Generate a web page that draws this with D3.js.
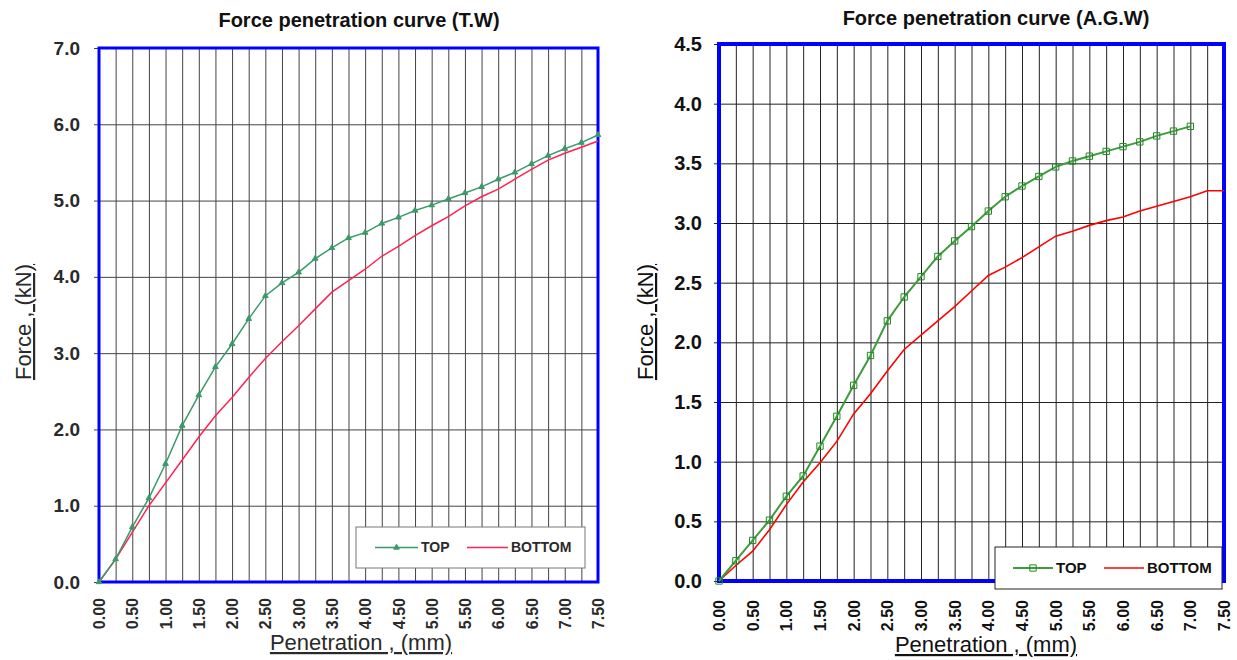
<!DOCTYPE html>
<html>
<head>
<meta charset="utf-8">
<script src="https://cdn.jsdelivr.net/npm/d3@7"></script>
<style>
  html, body { margin: 0; padding: 0; background: #fff; }
  svg { display: block; font-family: 'Liberation Sans', Arial, sans-serif; }
</style>
</head>
<body>
<div id="chart"></div>
<script>
/** DATA **/
// Penetration (mm), one reading every 0.25 mm
let penetration = [0, 0.25, 0.5, 0.75, 1, 1.25, 1.5, 1.75, 2, 2.25, 2.5, 2.75, 3, 3.25, 3.5, 3.75,
  4, 4.25, 4.5, 4.75, 5, 5.25, 5.5, 5.75, 6, 6.25, 6.5, 6.75, 7, 7.25, 7.5];
// A.G.W top stops at 7.0 mm
let penetrationAGWTop = [0, 0.25, 0.5, 0.75, 1, 1.25, 1.5, 1.75, 2, 2.25, 2.5, 2.75, 3, 3.25, 3.5, 3.75,
  4, 4.25, 4.5, 4.75, 5, 5.25, 5.5, 5.75, 6, 6.25, 6.5, 6.75, 7];

// Force (kN) - T.W
let twTop = [0, 0.30, 0.72, 1.10, 1.55, 2.05, 2.45, 2.82, 3.12, 3.45, 3.75, 3.92, 4.06, 4.24, 4.38, 4.51,
  4.58, 4.70, 4.78, 4.87, 4.94, 5.02, 5.10, 5.18, 5.28, 5.37, 5.48, 5.59, 5.68, 5.76, 5.86];
let twBottom = [0, 0.30, 0.65, 1.00, 1.30, 1.60, 1.90, 2.18, 2.42, 2.68, 2.93, 3.15, 3.36, 3.58, 3.80, 3.95,
  4.10, 4.27, 4.40, 4.54, 4.67, 4.79, 4.93, 5.05, 5.15, 5.28, 5.41, 5.53, 5.62, 5.70, 5.78];

// Force (kN) - A.G.W
let agwTop = [0, 0.17, 0.34, 0.51, 0.71, 0.88, 1.13, 1.38, 1.64, 1.89, 2.18, 2.38, 2.55, 2.72, 2.85, 2.97,
  3.10, 3.22, 3.31, 3.39, 3.47, 3.52, 3.56, 3.60, 3.64, 3.68, 3.73, 3.77, 3.81];
let agwBottom = [0, 0.13, 0.25, 0.43, 0.64, 0.83, 0.99, 1.17, 1.40, 1.57, 1.76, 1.94, 2.06, 2.18, 2.30, 2.43,
  2.56, 2.63, 2.71, 2.80, 2.89, 2.93, 2.98, 3.02, 3.05, 3.10, 3.14, 3.18, 3.22, 3.27, 3.27];

// tick labels
let xTickLabels = [0, 0.5, 1, 1.5, 2, 2.5, 3, 3.5, 4, 4.5, 5, 5.5, 6, 6.5, 7, 7.5];
let twYTicks = [0, 1, 2, 3, 4, 5, 6, 7];
let agwYTicks = [0, 0.5, 1, 1.5, 2, 2.5, 3, 3.5, 4, 4.5];

let svg = d3.select('#chart').append('svg')
  .attr('width', 1237)
  .attr('height', 660);

svg.append('rect').attr('width', 1237).attr('height', 660).attr('fill', '#fff');

/**
 * Draws one force / penetration panel
 */
function drawChart (o) {
  let x = d3.scaleLinear().domain([0, 7.5]).range([o.left, o.right]);
  let y = d3.scaleLinear().domain([0, o.yMax]).range([o.bottom, o.top]);
  let g = svg.append('g');

  // vertical grid every 0.25 mm
  g.append('g')
    .attr('transform', `translate(0,${o.bottom})`)
    .call(d3.axisBottom(x).tickValues(penetration).tickSize(-(o.bottom - o.top)).tickFormat(''))
    .call(s => s.select('.domain').remove())
    .selectAll('line')
    .attr('stroke', o.grid);

  // horizontal grid + y labels
  let yAxis = g.append('g')
    .attr('transform', `translate(${o.left},0)`)
    .call(d3.axisLeft(y).tickValues(o.yTicks).tickSize(5).tickPadding(o.yPad).tickFormat(d3.format('.1f')));
  yAxis.select('.domain').remove();
  yAxis.selectAll('line').attr('stroke', o.grid);
  yAxis.selectAll('.tick').append('line')
    .attr('x2', o.right - o.left)
    .attr('stroke', o.grid);
  yAxis.selectAll('text')
    .attr('fill', o.textColor)
    .style('font-size', o.yFont + 'px')
    .style('font-weight', 'bold');

  // x labels, rotated
  let xAxis = g.append('g')
    .attr('transform', `translate(0,${o.bottom})`)
    .call(d3.axisBottom(x).tickValues(xTickLabels).tickSize(0).tickFormat(d3.format('.2f')));
  xAxis.select('.domain').remove();
  xAxis.selectAll('text')
    .attr('transform', 'rotate(-90)')
    .attr('text-anchor', 'end')
    .attr('x', -o.xPad)
    .attr('y', 0)
    .attr('dy', '0.35em')
    .attr('fill', o.textColor)
    .style('font-size', o.xFont + 'px')
    .style('font-weight', 'bold');

  // blue plot frame
  g.append('rect')
    .attr('x', o.left)
    .attr('y', o.top)
    .attr('width', o.right - o.left)
    .attr('height', o.bottom - o.top)
    .attr('fill', 'none')
    .attr('stroke', '#0000ff')
    .attr('stroke-width', o.frame);

  // lines
  let line = d3.line().x(d => x(d[0])).y(d => y(d[1]));
  let bottomData = penetration.map((p, i) => [p, o.bottomVals[i]]);
  let topData = o.topPen.map((p, i) => [p, o.topVals[i]]);

  g.append('path')
    .datum(bottomData)
    .attr('fill', 'none')
    .attr('stroke', o.red)
    .attr('stroke-width', o.redWidth)
    .attr('d', line);

  g.append('path')
    .datum(topData)
    .attr('fill', 'none')
    .attr('stroke', o.green)
    .attr('stroke-width', o.greenWidth)
    .attr('d', line);

  g.selectAll('.mk')
    .data(topData)
    .enter()
    .append('path')
    .attr('transform', d => `translate(${x(d[0])},${y(d[1])})`)
    .attr('d', d3.symbol().type(o.marker).size(o.markerSize))
    .attr('fill', o.markerFill)
    .attr('stroke', o.markerStroke)
    .attr('stroke-width', 1);

  // titles
  g.append('text')
    .attr('x', o.titleX)
    .attr('y', o.titleY)
    .attr('text-anchor', 'middle')
    .attr('fill', '#111')
    .style('font-size', '20px')
    .style('font-weight', 'bold')
    .text(o.title);

  g.append('text')
    .attr('transform', `translate(${o.yTitleX},${o.yTitleY}) rotate(-90)`)
    .attr('text-anchor', 'middle')
    .attr('fill', o.textColor)
    .style('font-size', '22px')
    .style('text-decoration', 'underline')
    .text('Force , (kN)');

  g.append('text')
    .attr('x', o.xTitleX)
    .attr('y', o.xTitleY)
    .attr('text-anchor', 'middle')
    .attr('fill', o.textColor)
    .style('font-size', '22px')
    .style('text-decoration', 'underline')
    .text('Penetration , (mm)');

  // handmade legend
  let lg = o.legend;
  g.append('rect')
    .attr('x', lg.x)
    .attr('y', lg.y)
    .attr('width', lg.w)
    .attr('height', lg.h)
    .attr('fill', '#fff')
    .attr('stroke', lg.stroke);
  let cy = lg.y + lg.h / 2;
  g.append('line')
    .attr('x1', lg.x + lg.top0).attr('x2', lg.x + lg.top1)
    .attr('y1', cy).attr('y2', cy)
    .attr('stroke', o.green).attr('stroke-width', o.greenWidth);
  g.append('path')
    .attr('transform', `translate(${lg.x + (lg.top0 + lg.top1) / 2},${cy})`)
    .attr('d', d3.symbol().type(o.marker).size(o.markerSize))
    .attr('fill', o.markerFill)
    .attr('stroke', o.markerStroke);
  g.append('text')
    .attr('x', lg.x + lg.top1 + 3).attr('y', cy).attr('dy', '0.35em')
    .attr('fill', o.textColor)
    .style('font-size', lg.font + 'px').style('font-weight', 'bold')
    .text('TOP');
  g.append('line')
    .attr('x1', lg.x + lg.bot0).attr('x2', lg.x + lg.bot1)
    .attr('y1', cy).attr('y2', cy)
    .attr('stroke', o.red).attr('stroke-width', o.redWidth);
  g.append('text')
    .attr('x', lg.x + lg.bot1 + 3).attr('y', cy).attr('dy', '0.35em')
    .attr('fill', o.textColor)
    .style('font-size', lg.font + 'px').style('font-weight', 'bold')
    .text('BOTTOM');
}

// Left panel (T.W)
drawChart({
  left: 99, right: 598, top: 48, bottom: 582, yMax: 7,
  yTicks: twYTicks, topPen: penetration, topVals: twTop, bottomVals: twBottom,
  grid: '#444', textColor: '#2a2a2a', frame: 3,
  yFont: 19, yPad: 14, xFont: 16, xPad: 16,
  green: '#3a9a6a', greenWidth: 1.5, red: '#ff2255', redWidth: 1.5,
  marker: d3.symbolTriangle, markerSize: 14, markerFill: '#3a9a6a', markerStroke: '#3a9a6a',
  title: 'Force penetration curve (T.W)', titleX: 359, titleY: 27,
  yTitleX: 31, yTitleY: 322, xTitleX: 361, xTitleY: 650,
  legend: { x: 356, y: 527, w: 229, h: 41, stroke: '#777', font: 14, top0: 19, top1: 62, bot0: 111, bot1: 152 }
});

// Right panel (A.G.W)
drawChart({
  left: 719, right: 1224, top: 44, bottom: 581, yMax: 4.5,
  yTicks: agwYTicks, topPen: penetrationAGWTop, topVals: agwTop, bottomVals: agwBottom,
  grid: '#222', textColor: '#111', frame: 4,
  yFont: 20, yPad: 12, xFont: 16, xPad: 19,
  green: '#3c9c3c', greenWidth: 2, red: '#ff0000', redWidth: 1.6,
  marker: d3.symbolSquare, markerSize: 40, markerFill: 'none', markerStroke: '#1e8c1e',
  title: 'Force penetration curve (A.G.W)', titleX: 996, titleY: 25,
  yTitleX: 653, yTitleY: 322, xTitleX: 986, xTitleY: 652,
  legend: { x: 995, y: 547, w: 227, h: 42, stroke: '#222', font: 15, top0: 18, top1: 58, bot0: 109, bot1: 149 }
});
</script>
</body>
</html>
